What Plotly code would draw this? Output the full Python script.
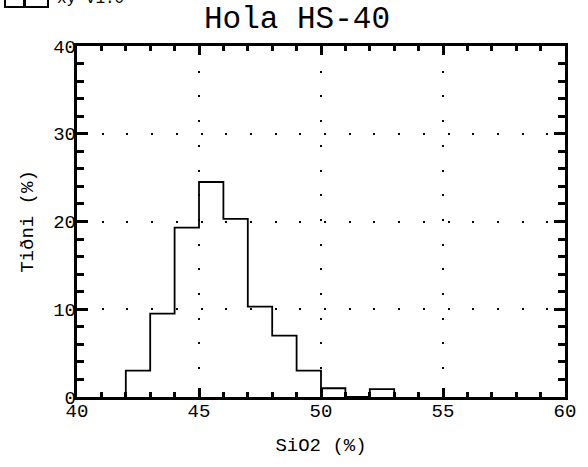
import plotly.graph_objects as go

# Data: histogram of SiO2 (%) in 1% bins
bin_left = [42, 43, 44, 45, 46, 47, 48, 49, 50, 51, 52]
bin_width = 1
freq = [3.0, 9.5, 19.3, 24.5, 20.3, 10.3, 7.0, 3.0, 1.0, 0.0, 0.9]

x_range = [40, 60]
y_range = [0, 40]
x_major, x_minor = 5, 1
y_major, y_minor = 10, 2

title_text = "Hola HS-40"
x_title = "SiO2 (%)"
y_title = "Tiðni (%)"
stamp_text = "xy v1.0"

# step outline (hv)
xs = [bin_left[0]] + bin_left + [bin_left[-1] + bin_width]
ys = [0] + freq + [0]

FONT = "Liberation Mono"
W, H = 588, 467
L, R, T, B = 77, 17, 46, 70

fig = go.Figure()
fig.add_trace(go.Scatter(x=xs, y=ys, mode="lines", line=dict(shape="hv", color="black", width=1.8)))
# empty trace anchoring the label/grid overlay axes
fig.add_trace(go.Scatter(x=[], y=[], xaxis="x2", yaxis="y2"))

tickfont = dict(family=FONT, size=19, color="black")

fig.update_layout(
    width=W, height=H,
    margin=dict(l=L, r=R, t=T, b=B),
    paper_bgcolor="white", plot_bgcolor="white", showlegend=False,
    # frame + tick marks only (no labels)
    xaxis=dict(range=x_range, dtick=x_major,
               showline=True, linecolor="black", linewidth=3, mirror="allticks",
               ticks="inside", ticklen=9, tickwidth=3, tickcolor="black",
               showticklabels=False, showgrid=False, zeroline=False,
               minor=dict(dtick=x_minor, ticks="inside", ticklen=5, tickcolor="black")),
    yaxis=dict(range=y_range, dtick=y_major,
               showline=True, linecolor="black", linewidth=3, mirror="allticks",
               ticks="inside", ticklen=11, tickwidth=3, tickcolor="black",
               showticklabels=False, showgrid=False, zeroline=False,
               minor=dict(dtick=y_minor, ticks="inside", ticklen=7, tickcolor="black")),
    # labels, titles and dotted grid
    xaxis2=dict(range=x_range, overlaying="x", anchor="y2", side="bottom", dtick=x_major,
                showticklabels=True, tickfont=tickfont, ticks="", showline=False, zeroline=False,
                showgrid=True, gridcolor="black", gridwidth=2, griddash="2px,22.7px",
                title=dict(text=x_title, font=tickfont)),
    yaxis2=dict(range=y_range, overlaying="y", anchor="x2", side="left", dtick=y_major,
                showticklabels=True, tickfont=tickfont, ticks="", showline=False, zeroline=False,
                showgrid=True, gridcolor="black", gridwidth=2, griddash="2px,22.7px",
                title=dict(text=y_title, font=tickfont, standoff=14)),
)

pw = W - L - R
ph = H - T - B
def px_x(p):
    return (p - L) / pw
def px_y(p):
    return (H - B - p) / ph

# chart title
fig.add_annotation(text=title_text, xref="paper", yref="paper", x=px_x(300), y=px_y(20),
                   xanchor="center", yanchor="middle", showarrow=False,
                   font=dict(family=FONT, size=31, color="black"))
# header stamp, partly cut off at the top of the page
for x0, wd in [(3, 18), (22, 22)]:
    fig.add_annotation(text=" ", xref="paper", yref="paper", x=px_x(x0), y=px_y(8),
                       xanchor="left", yanchor="bottom", showarrow=False, width=wd, height=30,
                       bordercolor="black", borderwidth=2, borderpad=0,
                       font=dict(family=FONT, size=10, color="black"))
fig.add_annotation(text=stamp_text, xref="paper", yref="paper", x=px_x(55), y=px_y(10),
                   xanchor="left", yanchor="bottom", showarrow=False,
                   font=dict(family=FONT, size=16, color="black"))

fig.write_html("out.html")
